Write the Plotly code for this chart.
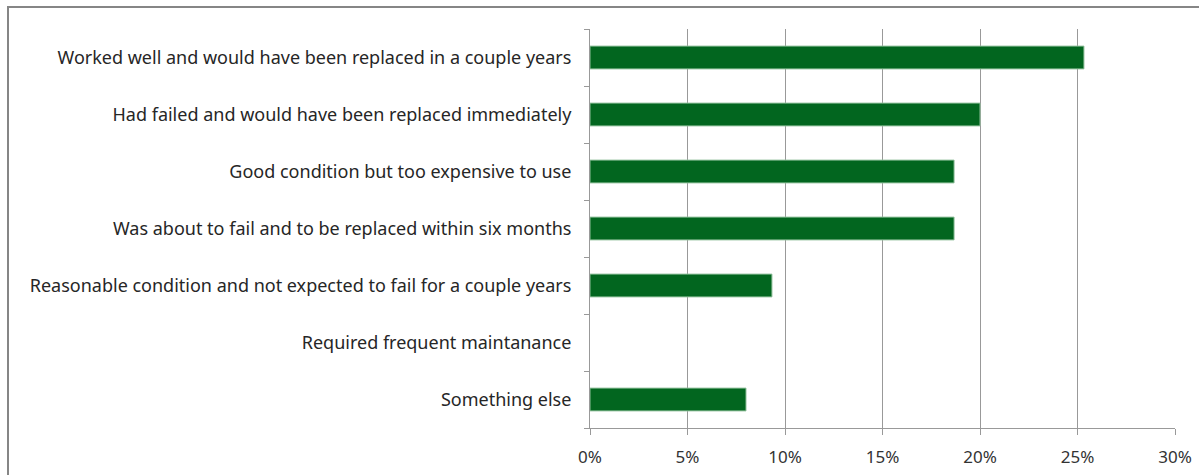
import plotly.graph_objects as go

# Reasons given, listed top to bottom
reasons = [
    "Worked well and would have been replaced in a couple years",
    "Had failed and would have been replaced immediately",
    "Good condition but too expensive to use",
    "Was about to fail and to be replaced within six months",
    "Reasonable condition and not expected to fail for a couple years",
    "Required frequent maintanance",
    "Something else",
]
shares = [0.2533, 0.20, 0.1867, 0.1867, 0.0933, 0.0, 0.08]
x_ticks = [0, 0.05, 0.10, 0.15, 0.20, 0.25, 0.30]

W, H = 1199, 475
L, R, T, B = 590, 24, 29, 47
pw, ph = W - L - R, H - T - B

# no outline on empty bars
edge_widths = [1 if v > 0 else 0 for v in shares]

fig = go.Figure(
    go.Bar(
        x=shares,
        y=reasons,
        orientation="h",
        width=0.4,
        marker=dict(color="#02661f", line=dict(color="#8fbf9a", width=edge_widths)),
        hoverinfo="x+y",
    )
)

grid = "#999999"
fig.update_xaxes(
    range=[0, 0.30],
    tickvals=x_ticks,
    tickformat=".0%",
    showgrid=True,
    gridcolor=grid,
    gridwidth=1,
    showline=True,
    linecolor=grid,
    linewidth=1,
    ticks="outside",
    ticklen=6,
    tickcolor=grid,
    ticklabelstandoff=8,
    zeroline=False,
    automargin=False,
    tickfont=dict(family="Noto Sans", size=17, color="#333333"),
)
fig.update_yaxes(
    categoryorder="array",
    categoryarray=reasons[::-1],
    showline=True,
    linecolor=grid,
    linewidth=1,
    ticks="outside",
    tickson="boundaries",
    ticklen=5,
    tickcolor=grid,
    ticklabelstandoff=14,
    showgrid=False,
    automargin=False,
    tickfont=dict(family="Noto Sans", size=18, color="#262626"),
)

# Outer chart border (top and left edges visible)
fig.add_shape(
    type="rect",
    xref="paper", yref="paper",
    x0=(8 - L) / pw, x1=(W + 10 - L) / pw,
    y0=(H - B - (H + 10)) / ph, y1=(H - B - 7) / ph,
    line=dict(color="#868686", width=2),
    fillcolor="rgba(0,0,0,0)",
    layer="below",
)

fig.update_layout(
    width=W,
    height=H,
    margin=dict(l=L, r=R, t=T, b=B, autoexpand=False),
    paper_bgcolor="white",
    plot_bgcolor="white",
    showlegend=False,
    bargap=0.6,
)

fig.write_html("out.html")
